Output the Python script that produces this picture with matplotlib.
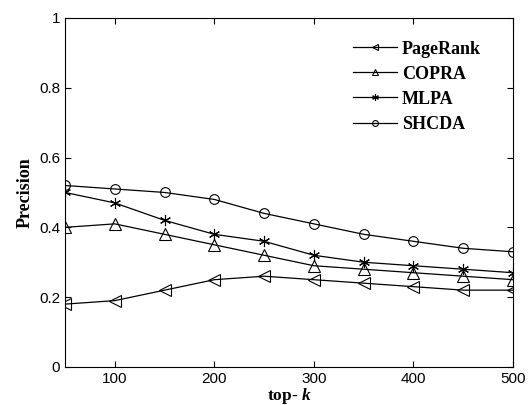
import numpy as np
import matplotlib.pyplot as plt

# top-k values and precision of each method
top_k = [50, 100, 150, 200, 250, 300, 350, 400, 450, 500]
pagerank = [0.18, 0.19, 0.22, 0.25, 0.26, 0.25, 0.24, 0.23, 0.22, 0.22]
copra = [0.40, 0.41, 0.38, 0.35, 0.32, 0.29, 0.28, 0.27, 0.26, 0.25]
mlpa = [0.50, 0.47, 0.42, 0.38, 0.36, 0.32, 0.30, 0.29, 0.28, 0.27]
shcda = [0.52, 0.51, 0.50, 0.48, 0.44, 0.41, 0.38, 0.36, 0.34, 0.33]

plt.rcParams['font.family'] = 'Liberation Sans'
plt.rcParams['mathtext.fontset'] = 'custom'
plt.rcParams['mathtext.it'] = 'Liberation Serif:bold:italic'

fig = plt.figure(figsize=(5.3, 4.05), dpi=100)
ax = fig.add_axes([0.1226, 0.094, 0.8454, 0.8616])

style = dict(color='black', linewidth=0.9, markerfacecolor='none',
             markeredgecolor='black', markeredgewidth=0.8)
ax.plot(top_k, pagerank, marker='<', markersize=8, label='PageRank', **style)
ax.plot(top_k, copra, marker='^', markersize=8, label='COPRA', **style)
ax.plot(top_k, mlpa, marker=(6, 2, 0), markersize=8, label='MLPA', **style)
ax.plot(top_k, shcda, marker='o', markersize=7, label='SHCDA', **style)

ax.set_xlim(50, 500)
ax.set_ylim(0, 1)
ax.set_xticks([100, 200, 300, 400, 500])
ax.set_yticks([0, 0.2, 0.4, 0.6, 0.8, 1])
ax.set_yticklabels(['0', '0.2', '0.4', '0.6', '0.8', '1'])
ax.tick_params(direction='in', top=True, right=True, labelsize=11, length=4)

ax.set_xlabel('top- $\\mathit{k}$', family='Liberation Serif',
              fontweight='bold', fontsize=12.5, labelpad=0)
ax.set_ylabel('Precision', family='Liberation Serif',
              fontweight='bold', fontsize=13)

ax.legend(loc='upper left', bbox_to_anchor=(0.607, 0.982), frameon=False,
          markerscale=0.6, handlelength=2.4, handletextpad=0.3,
          labelspacing=0.45, prop={'family': 'Liberation Serif',
                                   'weight': 'bold', 'size': 13})

fig.savefig('out.png')
